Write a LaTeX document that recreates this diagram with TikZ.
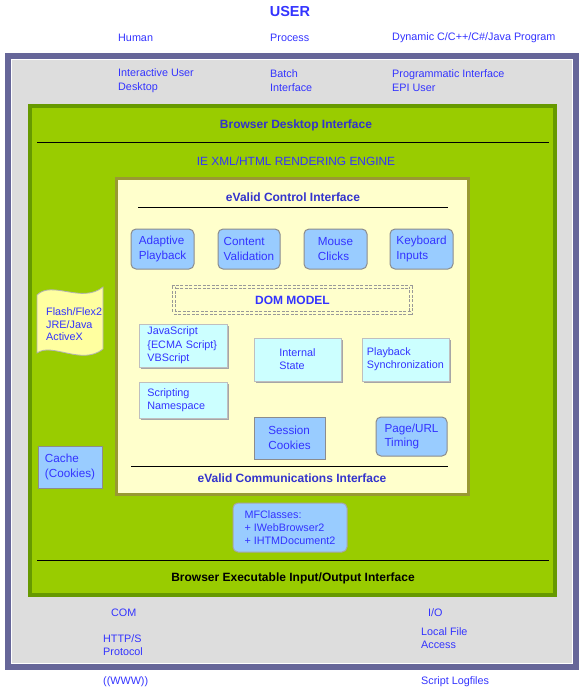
\documentclass[tikz,border=0pt]{standalone}
\usepackage{fontspec}
\setmainfont{Liberation Sans}
\usetikzlibrary{shadows}

\definecolor{txtblue}{RGB}{51,51,255}
\definecolor{ttlblue}{RGB}{51,51,204}
\definecolor{frameviolet}{RGB}{102,102,153}
\definecolor{framegray}{RGB}{221,221,221}
\definecolor{engreen}{RGB}{153,204,0}
\definecolor{engreendk}{RGB}{102,153,0}
\definecolor{ctrlyellow}{RGB}{255,255,204}
\definecolor{ctrlolive}{RGB}{153,153,51}
\definecolor{boxblue}{RGB}{153,204,255}
\definecolor{boxcyan}{RGB}{204,255,255}
\definecolor{tapeyellow}{RGB}{255,255,160}

\tikzset{
  lbl/.style = {text=txtblue, font=\fontsize{10.8}{14}\selectfont, align=left, inner sep=0pt, anchor=west},
  ttl/.style = {text=ttlblue, font=\bfseries\fontsize{12}{14}\selectfont, inner sep=0pt},
  rbox/.style = {fill=boxblue, draw=gray!90, line width=1pt, rounded corners=5pt, anchor=north west,
                 text=txtblue, font=\fontsize{11.7}{14.5}\selectfont, align=left, inner sep=2pt},
  sbox/.style = {rbox, rounded corners=0pt},
  cbox/.style = {fill=boxcyan, draw=gray!50, line width=0.8pt, anchor=north west,
                 drop shadow={shadow xshift=2pt, shadow yshift=-2pt, fill=gray!70, opacity=1},
                 text=txtblue, font=\fontsize{10.8}{13.3}\selectfont, align=left, inner sep=2pt},
}

\begin{document}
\begin{tikzpicture}[x=1pt, y=-1pt]
\useasboundingbox (0,0) rectangle (585,694);

% outer frame
\draw [draw=frameviolet, fill=framegray, line width=6pt] (8,56) rectangle (576,667);
\draw [white, line width=0.8pt] (11.4,59.4) rectangle (572.6,663.6);

% user row
\node [text=txtblue, font=\bfseries\fontsize{14.5}{16}\selectfont, inner sep=0pt] (user) at (290,12) {USER};
\node [lbl] (human) at (118,37.5) {Human};
\node [lbl] (process) at (270,37.5) {Process};
\node [lbl] (dynamic) at (392,37.5) {Dynamic C/C++/C\#/Java Program};
\node [lbl] (interactive) at (118,80.5) {Interactive User\\Desktop};
\node [lbl] (batch) at (270,80.5) {Batch\\Interface};
\node [lbl] (epi) at (392,80.5) {Programmatic Interface\\EPI User};

% browser / rendering engine
\draw [draw=engreendk, fill=engreen, line width=4pt] (30,106) rectangle (555,595);
\node [ttl] (bdi) at (296,125) {Browser Desktop Interface};
\draw [line width=1pt] (37,142) -- (549,142);
\node [text=txtblue, font=\fontsize{11.9}{14}\selectfont, inner sep=0pt] (ie) at (296,161) {IE XML/HTML RENDERING ENGINE};

% eValid control
\draw [draw=ctrlolive, fill=ctrlyellow, line width=3pt] (116.5,178.5) rectangle (468.5,494.5);
\node [ttl] (ctrl) at (293,197) {eValid Control Interface};
\draw [line width=1pt] (138,207) -- (448,207);

\node [rbox, minimum width=63pt, minimum height=40pt] (adaptive) at (130.5,228.5) {Adaptive\\Playback};
\node [rbox, minimum width=62pt, minimum height=40pt] (content) at (217.5,228.5) {Content\\Validation};
\node [rbox, minimum width=63pt, minimum height=40pt] (mouse) at (303.5,228.5) {Mouse\\Clicks};
\node [rbox, minimum width=63pt, minimum height=40pt] (keyboard) at (389.5,228.5) {Keyboard\\Inputs};

\node [draw=gray!80, double=ctrlyellow, double distance=2pt, line width=0.9pt, dash pattern=on 3pt off 1.5pt,
       minimum width=237pt, minimum height=26pt, anchor=north west,
       text=txtblue, font=\bfseries\fontsize{12}{14}\selectfont] (dom) at (173.5,286.5) {DOM MODEL};

\node [cbox, minimum width=88pt, minimum height=43pt, text width=71pt] (script) at (138.5,323.5) {JavaScript\\\{ECMA Script\}\\VBScript};
\node [cbox, minimum width=88pt, minimum height=36pt, text width=71pt] (namespace) at (138.5,381.5) {Scripting\\Namespace};
\node [cbox, minimum width=87pt, minimum height=43pt] (state) at (253.5,337.5) {Internal\\State};
\node [cbox, minimum width=87pt, minimum height=43pt] (sync) at (361.5,337.5) {Playback\\Synchronization};

\node [sbox, minimum width=71pt, minimum height=42pt] (session) at (253.5,416.5) {Session\\Cookies};
\node [rbox, minimum width=71pt, minimum height=39pt] (timing) at (375.5,416.5) {Page/URL\\Timing};

\draw [line width=1pt] (131,466) -- (448,466);
\node [ttl] (comm) at (292,478) {eValid Communications Interface};

% left side plug-ins
\draw [draw=gray!60, fill=tapeyellow, line width=0.8pt]
  (37,295) .. controls (52,280) and (82,304) .. (103,287)
  -- (103,349) .. controls (82,366) and (52,342) .. (37,353) -- cycle;
\node [lbl, font=\fontsize{10.8}{12.6}\selectfont] (plugins) at (46,324.5) {Flash/Flex2\\JRE/Java\\ActiveX};
\node [sbox, minimum width=64pt, minimum height=42pt] (cache) at (37.5,445.5) {Cache\\(Cookies)};

% MFC classes
\node [rbox, minimum width=114pt, minimum height=49pt, font=\fontsize{10.8}{13}\selectfont, draw=gray!70] (mfc) at (232.5,502.5) {MFClasses:\\+ IWebBrowser2\\+ IHTMDocument2};

\draw [line width=1pt] (37,560) -- (549,560);
\node [ttl, text=black] (bio) at (293,578) {Browser Executable Input/Output Interface};

% bottom row
\node [lbl] (com) at (111,613) {COM};
\node [lbl, font=\fontsize{10.8}{13}\selectfont] (http) at (103,645.5) {HTTP/S\\Protocol};
\node [lbl] (io) at (428,613) {I/O};
\node [lbl, font=\fontsize{10.8}{13}\selectfont] (local) at (421,638.5) {Local File\\Access};
\node [lbl] (www) at (103,682) {((WWW))};
\node [lbl] (logfiles) at (421,682) {Script Logfiles};
\end{tikzpicture}
\end{document}
